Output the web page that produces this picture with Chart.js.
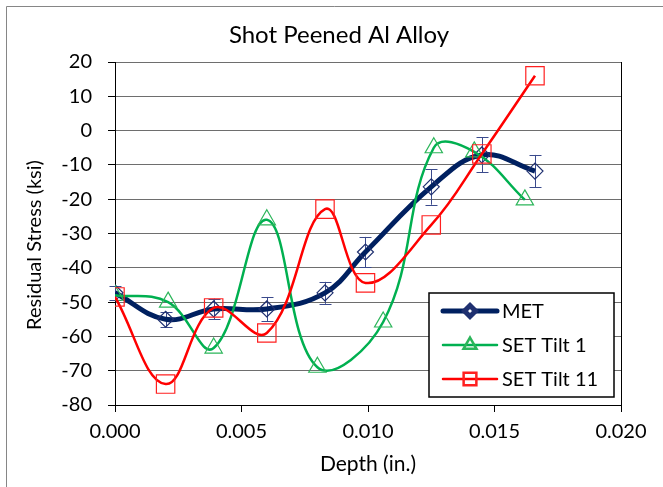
<!DOCTYPE html>
<html>
<head>
<meta charset="utf-8">
<script src="https://cdn.jsdelivr.net/npm/chart.js@4.4.0/dist/chart.umd.min.js"></script>
<style>
  html, body { margin: 0; padding: 0; background: #fff; }
</style>
</head>
<body>
<canvas id="myChart" width="663" height="487"></canvas>
<script>
var chartTitle = 'Shot Peened Al Alloy';
var yTitle = 'Residual Stress (ksi)';
var xTitle = 'Depth (in.)';
var seriesNames = ['MET', 'SET Tilt 1', 'SET Tilt 11'];

var metDepth = [0, 0.0020, 0.0039, 0.0060, 0.0083, 0.0099, 0.0125, 0.0145, 0.0166];
var metStress = [-47.3, -55, -52, -52, -47.3, -35.4, -16.4, -7.1, -11.8];
var metError = [2, 2.2, 3, 3.5, 3.2, 4.4, 5.2, 5.1, 4.7];

var tilt1Depth = [0, 0.0021, 0.0039, 0.0060, 0.0080, 0.0106, 0.0126, 0.0142, 0.0162];
var tilt1Stress = [-48, -50, -63.4, -26, -69, -55.8, -5, -6.2, -20.2];

var tilt11Depth = [0, 0.0020, 0.0039, 0.0060, 0.0083, 0.0099, 0.0125, 0.0145, 0.0166];
var tilt11Stress = [-48.5, -73.9, -51.7, -59, -22.9, -44.4, -27.5, -6.8, 16];

var xTicks = [0, 0.005, 0.010, 0.015, 0.020];
var yTicks = [-80, -70, -60, -50, -40, -30, -20, -10, 0, 10, 20];

var FONT = 'Lato';

function pts(xs, ys) {
  return xs.map(function (x, i) { return { x: x, y: ys[i] }; });
}

// outer frame, right border of plot, chart title, y title
var framePlugin = {
  id: 'frame',
  beforeDraw: function (chart) {
    var ctx = chart.ctx;
    ctx.save();
    ctx.fillStyle = '#fff';
    ctx.fillRect(0, 0, chart.width, chart.height);
    ctx.strokeStyle = '#868686';
    ctx.lineWidth = 1;
    ctx.beginPath();
    ctx.moveTo(6.5, chart.height);
    ctx.lineTo(6.5, 6.5);
    ctx.lineTo(chart.width, 6.5);
    ctx.stroke();
    ctx.restore();
  },
  afterDraw: function (chart) {
    var ctx = chart.ctx;
    var a = chart.chartArea;
    ctx.save();
    ctx.strokeStyle = '#000';
    ctx.lineWidth = 1;
    ctx.beginPath();
    ctx.moveTo(Math.round(a.right) + 0.5, a.top);
    ctx.lineTo(Math.round(a.right) + 0.5, a.bottom);
    ctx.stroke();
    ctx.fillStyle = '#000';
    ctx.textAlign = 'center';
    ctx.textBaseline = 'middle';
    ctx.font = '24px ' + FONT;
    ctx.fillText(chartTitle, 339, 35);
    ctx.translate(35, 245);
    ctx.rotate(-Math.PI / 2);
    ctx.font = '20px ' + FONT;
    ctx.fillText(yTitle, 0, 0);
    ctx.restore();
  }
};

// error bars for MET
var errorPlugin = {
  id: 'errorBars',
  beforeDatasetsDraw: function (chart) {
    var ctx = chart.ctx;
    var xs = chart.scales.x, ys = chart.scales.y;
    ctx.save();
    ctx.strokeStyle = '#3a4a8c';
    ctx.lineWidth = 1;
    metDepth.forEach(function (d, i) {
      var px = Math.round(xs.getPixelForValue(d)) + 0.5;
      var top = ys.getPixelForValue(metStress[i] + metError[i]);
      var bot = ys.getPixelForValue(metStress[i] - metError[i]);
      ctx.beginPath();
      ctx.moveTo(px, top); ctx.lineTo(px, bot);
      ctx.moveTo(px - 6, Math.round(top) + 0.5); ctx.lineTo(px + 6, Math.round(top) + 0.5);
      ctx.moveTo(px - 6, Math.round(bot) + 0.5); ctx.lineTo(px + 6, Math.round(bot) + 0.5);
      ctx.stroke();
    });
    ctx.restore();
  }
};

// legend box inside the plot
var legendRadius = [5.5, 7.5, 9];
var legendPlugin = {
  id: 'boxLegend',
  afterDraw: function (chart) {
    var ctx = chart.ctx;
    ctx.save();
    ctx.fillStyle = '#fff';
    ctx.fillRect(429, 293, 185, 104);
    ctx.strokeStyle = '#000';
    ctx.lineWidth = 1.5;
    ctx.strokeRect(429, 293, 185, 104);
    var rows = [311, 345, 379];
    chart.data.datasets.forEach(function (ds, i) {
      var y = rows[i];
      ctx.strokeStyle = ds.borderColor;
      ctx.lineWidth = ds.borderWidth;
      ctx.lineCap = 'round';
      ctx.beginPath();
      ctx.moveTo(443, y); ctx.lineTo(497, y);
      ctx.stroke();
      ctx.lineCap = 'butt';
      ctx.strokeStyle = ds.pointBorderColor;
      ctx.fillStyle = i === 0 ? '#fff' : ds.pointBackgroundColor;
      Chart.helpers.drawPoint(ctx, {
        pointStyle: ds.pointStyle, radius: legendRadius[i],
        borderWidth: ds.pointBorderWidth, rotation: 0
      }, 470, y);
      ctx.fillStyle = '#000';
      ctx.font = '20px ' + FONT;
      ctx.textAlign = 'left';
      ctx.textBaseline = 'middle';
      ctx.fillText(ds.label, 502, y + 1);
    });
    ctx.restore();
  }
};

new Chart('myChart', {
  type: 'line',
  data: {
    datasets: [
      {
        label: seriesNames[0],
        data: pts(metDepth, metStress),
        borderColor: '#002060',
        borderWidth: 5,
        tension: 0.4,
        pointStyle: 'rectRot',
        pointRadius: 8,
        pointBorderWidth: 1.2,
        pointBorderColor: '#1f3070',
        pointBackgroundColor: 'rgba(255,255,255,0)',
        order: 3
      },
      {
        label: seriesNames[1],
        data: pts(tilt1Depth, tilt1Stress),
        borderColor: '#00b050',
        borderWidth: 2.5,
        tension: 0.4,
        pointStyle: 'triangle',
        pointRadius: 10,
        pointBorderWidth: 1.2,
        pointBorderColor: '#2cb55a',
        pointBackgroundColor: 'rgba(255,255,255,0)',
        order: 2
      },
      {
        label: seriesNames[2],
        data: pts(tilt11Depth, tilt11Stress),
        borderColor: '#ff0000',
        borderWidth: 2.5,
        tension: 0.4,
        pointStyle: 'rect',
        pointRadius: 13,
        pointBorderWidth: 1.2,
        pointBorderColor: '#ff2020',
        pointBackgroundColor: 'rgba(255,255,255,0)',
        order: 1
      }
    ]
  },
  options: {
    responsive: false,
    animation: false,
    layout: { padding: { left: 7, right: 42, top: 62, bottom: 0 } },
    plugins: {
      legend: { display: false },
      tooltip: { enabled: false },
      title: { display: false }
    },
    scales: {
      x: {
        type: 'linear',
        min: 0,
        max: 0.02,
        afterBuildTicks: function (scale) {
          scale.ticks = xTicks.map(function (v) { return { value: v }; });
        },
        afterFit: function (scale) { scale.height = 82; },
        ticks: {
          color: '#000',
          font: { family: FONT, size: 20 },
          padding: 8,
          maxRotation: 0,
          callback: function (v) { return v.toFixed(3); }
        },
        grid: { drawOnChartArea: false, drawTicks: true, tickLength: 7, tickColor: '#000' },
        border: { color: '#000', width: 1 },
        title: {
          display: true,
          text: xTitle,
          color: '#000',
          font: { family: FONT, size: 21 },
          padding: { top: 0, bottom: 10 }
        }
      },
      y: {
        min: -80,
        max: 20,
        afterBuildTicks: function (scale) {
          scale.ticks = yTicks.map(function (v) { return { value: v }; });
        },
        afterFit: function (scale) { scale.width = 108; },
        ticks: {
          color: '#000',
          font: { family: FONT, size: 20 },
          padding: 16
        },
        grid: { color: '#6e6e6e', lineWidth: 1, drawTicks: true, tickLength: 7, tickColor: '#000' },
        border: { color: '#000', width: 1 }
      }
    }
  },
  plugins: [framePlugin, errorPlugin, legendPlugin]
});
</script>
</body>
</html>
